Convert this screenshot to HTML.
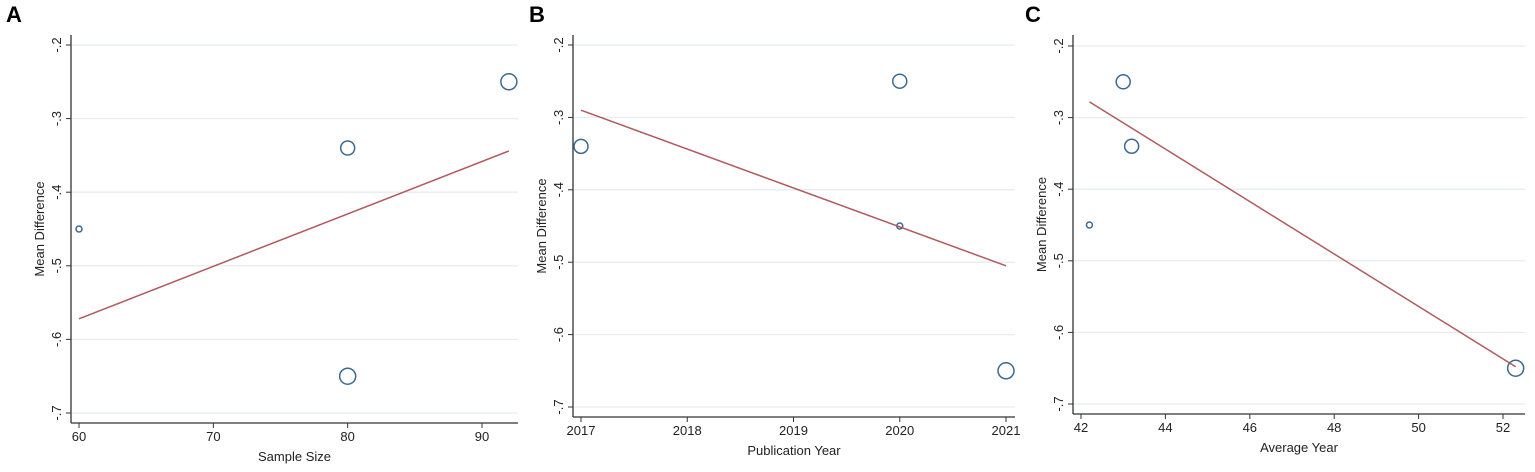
<!DOCTYPE html>
<html><head><meta charset="utf-8"><style>
body{margin:0;background:#fff;width:1535px;height:472px;overflow:hidden;font-family:"Liberation Sans",Arial,sans-serif}
svg{display:block}
</style></head><body>
<svg id="chart" width="1535" height="472" xmlns="http://www.w3.org/2000/svg"></svg>
<script>
// Panel A data
const aX=[60,80,80,92];
const aY=[-0.45,-0.34,-0.65,-0.25];
const aR=[3,7,8,8];
const aFitX=[60,92];
const aFitY=[-0.572,-0.344];
const aTicks=[60,70,80,90];
// Panel B data
const bX=[2017,2020,2020,2021];
const bY=[-0.34,-0.25,-0.45,-0.65];
const bR=[7,7,3,8];
const bFitX=[2017,2021];
const bFitY=[-0.29,-0.505];
const bTicks=[2017,2018,2019,2020,2021];
// Panel C data
const cX=[43,43.2,42.2,52.3];
const cY=[-0.25,-0.34,-0.45,-0.65];
const cR=[7,7,3,8];
const cFitX=[42.2,52.3];
const cFitY=[-0.278,-0.648];
const cTicks=[42,44,46,48,50,52];
const yTicks=[-0.2,-0.3,-0.4,-0.5,-0.6,-0.7];
const yLabels=["-.2","-.3","-.4","-.5","-.6","-.7"];

const svg=document.getElementById('chart');
const NS='http://www.w3.org/2000/svg';
function mk(tag,attrs,parent){const e=document.createElementNS(NS,tag);for(const k in attrs)e.setAttribute(k,attrs[k]);(parent||svg).appendChild(e);return e;}

function panel(cfg){
  const g=mk('g',{});
  
  
  const X=v=>cfg.x0px+(v-cfg.x0)*(cfg.x1px-cfg.x0px)/(cfg.x1-cfg.x0);
  const Y=v=>cfg.ytop+(v-(-0.2))*(cfg.ybot-cfg.ytop)/(-0.5);
  const lab=mk('text',{x:cfg.letterX,y:22,'font-size':22,'font-weight':'bold',fill:'#000'},g);
  lab.textContent=cfg.letter;
  
  
  yTicks.forEach((t,i)=>{
    const gl=mk('line',{x1:cfg.axX+1,x2:cfg.right,y1:Y(t),y2:Y(t),stroke:'#e6eef3','stroke-width':1.3},g);
    
    
    mk('line',{x1:cfg.axX-5,x2:cfg.axX,y1:Y(t),y2:Y(t),stroke:'#333','stroke-width':1},g);
    const tx=mk('text',{x:0,y:0,'font-size':13,fill:'#222','text-anchor':'middle',transform:`translate(${cfg.axX-10},${Y(t)}) rotate(-90)`},g);
    tx.textContent=yLabels[i];
    
    
  });
  mk('line',{x1:cfg.axX,x2:cfg.axX,y1:35,y2:cfg.axY,stroke:'#333','stroke-width':1.3},g);
  mk('line',{x1:cfg.axX,x2:cfg.right,y1:cfg.axY,y2:cfg.axY,stroke:'#333','stroke-width':1.3},g);
  cfg.ticks.forEach(t=>{
    mk('line',{x1:X(t),x2:X(t),y1:cfg.axY,y2:cfg.axY+5,stroke:'#333','stroke-width':1},g);
    const tx=mk('text',{x:X(t),y:cfg.axY+18,'font-size':13,fill:'#222','text-anchor':'middle'},g);
    tx.textContent=t;
    
    
  });
  const xt=mk('text',{x:(cfg.axX+cfg.right)/2,y:cfg.axY+38,'font-size':13,fill:'#222','text-anchor':'middle'},g);
  xt.textContent=cfg.xtitle;
  
  
  const yt=mk('text',{x:0,y:0,'font-size':13,fill:'#222','text-anchor':'middle',transform:`translate(${cfg.axX-27},${(35+cfg.axY)/2}) rotate(-90)`},g);
  yt.textContent='Mean Difference';
  
  
  cfg.xs.forEach((v,i)=>{
    const c=mk('circle',{cx:X(v),cy:Y(cfg.ys[i]),r:cfg.rs[i],fill:'none',stroke:'#3a6a8f','stroke-width':1.5},g);
    
    
  });
  const fl=mk('line',{x1:X(cfg.fx[0]),y1:Y(cfg.fy[0]),x2:X(cfg.fx[1]),y2:Y(cfg.fy[1]),stroke:'#b05a5e','stroke-width':1.5},g);
  
  
}
panel({letter:'A',letterX:6,axX:71,axY:423,right:518,ytop:45,ybot:413,x0:60,x1:90,x0px:79,x1px:482,ticks:aTicks,xs:aX,ys:aY,rs:aR,fx:aFitX,fy:aFitY,xtitle:'Sample Size'});
panel({letter:'B',letterX:529,axX:573,axY:417,right:1015,ytop:45,ybot:407,x0:2017,x1:2021,x0px:581,x1px:1006,ticks:bTicks,xs:bX,ys:bY,rs:bR,fx:bFitX,fy:bFitY,xtitle:'Publication Year'});
panel({letter:'C',letterX:1025,axX:1073,axY:414,right:1525,ytop:46,ybot:404,x0:42,x1:52,x0px:1081,x1px:1503,ticks:cTicks,xs:cX,ys:cY,rs:cR,fx:cFitX,fy:cFitY,xtitle:'Average Year'});
</script>
</body></html>
